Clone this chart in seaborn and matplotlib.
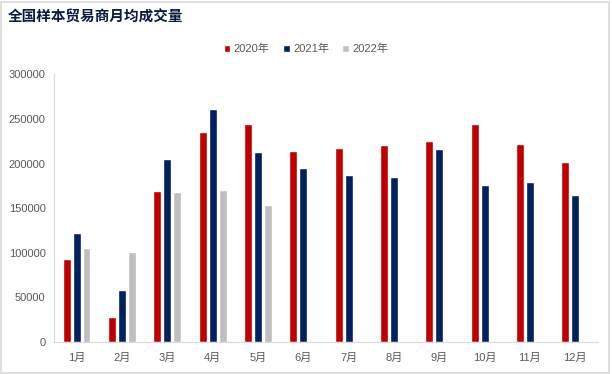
import pandas as pd
import seaborn as sns
import matplotlib.pyplot as plt
from matplotlib.patches import Rectangle

months = ["1月", "2月", "3月", "4月", "5月", "6月", "7月", "8月", "9月", "10月", "11月", "12月"]
v2020 = [93300, 27600, 169400, 235400, 244400, 214200, 217500, 220900, 225400, 244400, 222000, 201900]
v2021 = [122400, 57800, 205200, 261200, 213100, 195100, 187300, 185100, 216400, 176100, 179500, 164900]
v2022 = [105600, 100400, 168300, 170500, 153700]
years = ["2020年", "2021年", "2022年"]
colors = ["#C00000", "#002060", "#BFBFBF"]

rows = []
for yr, vals in zip(years, [v2020, v2021, v2022]):
    for m, v in zip(months, vals):
        rows.append({"month": m, "year": yr, "value": v})
df = pd.DataFrame(rows)

sns.set_style("white")
plt.rcParams["font.family"] = ["Liberation Sans", "Noto Sans CJK SC", "DejaVu Sans"]

fig = plt.figure(figsize=(6.12, 3.74), dpi=100)
ax = fig.add_axes([0.088, 0.086, 0.889, 0.715])

sns.barplot(data=df, x="month", y="value", hue="year", order=months,
            hue_order=years, palette=colors, width=0.66, gap=0.2,
            saturation=1, ax=ax, legend=True)

ax.set_ylim(0, 300000)
ax.set_yticks(range(0, 300001, 50000))
ax.set_xlim(-0.5, 11.5)
ax.set_xlabel("")
ax.set_ylabel("")
ax.tick_params(axis="both", colors="#595959", labelsize=8, length=0)
ax.tick_params(axis="y", pad=6)
ax.tick_params(axis="x", pad=8)
for s in ["top", "right"]:
    ax.spines[s].set_visible(False)
ax.spines["left"].set_color("#D9D9D9")
ax.spines["bottom"].set_color("#D9D9D9")

leg = ax.legend(loc="upper center", ncol=3, frameon=False,
                fontsize=8, handlelength=0.6, handleheight=0.6,
                handletextpad=0.3, columnspacing=1.2, labelcolor="#595959")
leg.set_bbox_to_anchor((0.5, 0.91), transform=fig.transFigure)

fig.text(0.013, 0.955, "全国样本贸易商月均成交量", fontsize=10.5, fontweight="bold",
         color="#0A1A40", va="center", ha="left",
         family=["Noto Sans CJK SC", "DejaVu Sans"])

fig.patches.append(Rectangle((0.001, 0.004), 0.994, 0.99, transform=fig.transFigure,
                             fill=False, edgecolor="#D9D9D9", linewidth=1.2))

plt.savefig("out.png", dpi=100)
